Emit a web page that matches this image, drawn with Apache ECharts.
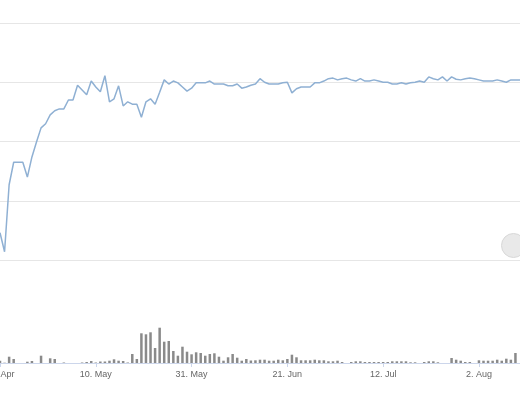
<!DOCTYPE html>
<html>
<head>
<meta charset="utf-8">
<script src="https://cdn.jsdelivr.net/npm/echarts@6/dist/echarts.min.js"></script>
<style>
html,body{margin:0;padding:0;background:#fff;}
#c{width:520px;height:400px;}
</style>
</head>
<body>
<div id="c"></div>
<script>
// day index 0 = 19 Apr
const tickDays = [0, 21, 42, 63, 84, 105];
const tickLabels = ['19. Apr', '10. May', '31. May', '21. Jun', '12. Jul', '2. Aug'];

const lineValues = [46,14,127,165,165,165,140,174,199,223,
 230,245,252,255,255,270,270,295,287,279,
 302,292,284,311,267,272,294,260,267,263,
 263,241,267,272,263,283,304,297,302,299,
 292,285,290,299,299,299,302,297,297,297,
 294,294,297,290,292,295,297,306,300,297,
 297,297,299,300,282,289,292,292,292,299,
 299,302,306,307,304,306,307,304,302,306,
 302,302,304,302,300,300,297,297,299,297,
 299,300,302,300,309,306,304,309,302,309,
 305,304,306,307,306,304,302,302,302,304,
 302,300,304,304,304];

const volumeValues = [23,3,63,40,0,0,13,20,0,73,
 0,47,40,0,5,0,0,0,5,10,
 20,5,15,15,23,37,23,20,5,90,
 40,297,287,307,150,353,213,220,120,73,
 163,113,87,107,100,73,90,97,63,23,
 57,90,53,23,40,25,27,33,33,23,
 23,33,27,40,83,57,27,27,27,33,
 27,27,17,17,23,10,0,10,17,17,
 10,10,10,10,10,10,17,17,17,17,
 7,7,0,10,17,17,7,0,0,50,
 33,23,10,10,0,27,23,23,23,33,
 23,43,33,100,0];

const lineData = lineValues.map((v, i) => [i, v]);
const volData = volumeValues.map((v, i) => [i, v]);

const chart = echarts.init(document.getElementById('c'), null, {renderer: 'canvas'});
const xMax = 114;
chart.setOption({
  animation: false,
  backgroundColor: '#ffffff',
  grid: [
    {left: 0, right: 0, top: 23, height: 237, containLabel: false, outerBoundsMode: 'none'},
    {left: 0, right: 0, top: 323, height: 40, containLabel: false, outerBoundsMode: 'none'}
  ],
  xAxis: [
    {type: 'value', gridIndex: 0, min: 0, max: xMax, interval: 21, show: false},
    {type: 'value', gridIndex: 1, min: 0, max: xMax, interval: 21,
     axisLine: {show: true, lineStyle: {color: '#ccd6eb', width: 1}},
     axisTick: {show: true, length: 4, lineStyle: {color: '#ccd6eb'}},
     splitLine: {show: false},
     axisLabel: {
       show: true, margin: 7, color: '#666666', fontSize: 9,
       fontFamily: 'Liberation Sans',
       showMinLabel: true, showMaxLabel: true,
       alignMinLabel: 'center', alignMaxLabel: 'center',
       hideOverlap: false,
       formatter: function (v) {
         const idx = tickDays.indexOf(v);
         return idx >= 0 ? tickLabels[idx] : '';
       }
     }
    }
  ],
  yAxis: [
    {type: 'value', gridIndex: 0, min: 0, max: 400, interval: 100,
     axisLine: {show: false}, axisTick: {show: false}, axisLabel: {show: false},
     splitLine: {show: true, lineStyle: {color: '#e6e6e6', width: 1}}},
    {type: 'value', gridIndex: 1, min: 0, max: 400,
     axisLine: {show: false}, axisTick: {show: false}, axisLabel: {show: false},
     splitLine: {show: false}}
  ],
  series: [
    {type: 'line', xAxisIndex: 0, yAxisIndex: 0, data: lineData,
     showSymbol: false, symbol: 'none', clip: true,
     lineStyle: {color: '#8fb0d3', width: 1.5}},
    {type: 'custom', xAxisIndex: 1, yAxisIndex: 1, data: volData,
     encode: {x: 0, y: 1}, clip: true,
     renderItem: function (params, api) {
       const top = api.coord([api.value(0), api.value(1)]);
       const base = api.coord([api.value(0), 0]);
       const w = 2.5;
       return {
         type: 'rect',
         shape: {x: top[0] - w / 2, y: top[1], width: w, height: base[1] - top[1]},
         style: {fill: '#8a8a8a'}
       };
     }}
  ],
  graphic: [
    {type: 'circle', left: 501, top: 233, shape: {r: 12},
     style: {fill: '#e9e9e9', stroke: '#d8d8d8', lineWidth: 1}}
  ]
});
</script>
</body>
</html>
